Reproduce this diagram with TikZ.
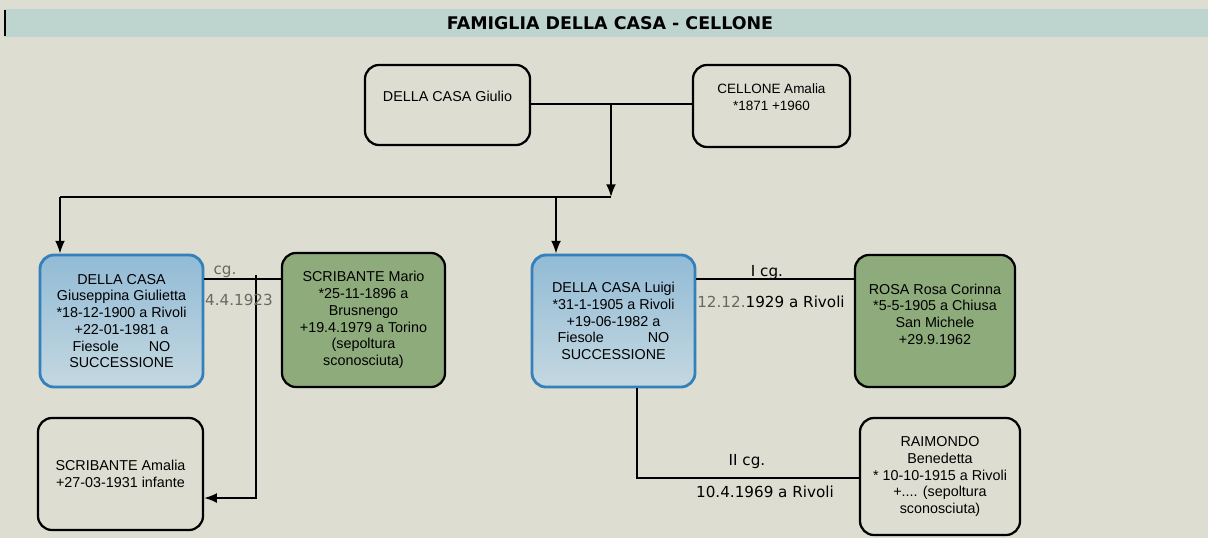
\documentclass[tikz,border=0pt]{standalone}
\usepackage{fontspec}
\setmainfont{Liberation Sans}
\newfontfamily\lblfont{DejaVu Sans}
\usepackage{tikz}
\usetikzlibrary{arrows.meta}
\usetikzlibrary{positioning}
\definecolor{paper}{RGB}{221,222,209}
\definecolor{band}{RGB}{190,212,207}
\definecolor{dcborder}{RGB}{52,128,186}
\definecolor{dctop}{RGB}{146,187,214}
\definecolor{dcbot}{RGB}{196,216,224}
\definecolor{spgreen}{RGB}{142,171,123}
\definecolor{lblgray}{RGB}{105,105,100}
\tikzstyle{pers}=[rectangle,draw,line width=1.6pt,rounded corners=10pt,align=center,inner sep=2pt,font=\fontsize{10.2}{11.9}\selectfont]
\tikzstyle{dc}=[pers,draw=dcborder,line width=2pt,top color=dctop,bottom color=dcbot]
\tikzstyle{sp}=[pers,fill=spgreen]
\tikzstyle{par}=[pers,text depth=0.45cm]
\tikzstyle{link}=[line width=1.3pt]
\tikzstyle{down}=[link,-{Latex[length=9pt,width=7pt]}]
\tikzstyle{cg}=[inner sep=0pt,font=\lblfont\fontsize{10.8}{12}\selectfont]

\begin{document}
\begin{tikzpicture}[x=0.025cm,y=-0.025cm]
%paper
\fill[paper] (0,0) rectangle (1208,538);
\useasboundingbox (0,0) rectangle (1208,538);

%title
\fill[band] (4,9) rectangle (1208,37);
\fill[black] (4,10) rectangle (6,36);
\node[inner sep=0pt,font=\lblfont\bfseries\fontsize{12.4}{14}\selectfont] (titolo) at (610,23) {FAMIGLIA DELLA CASA - CELLONE};

%parents
\node[par,minimum width=4.125cm,minimum height=2cm] (giulio) at (447.5,105) {DELLA CASA Giulio};
\node[par,minimum width=3.925cm,minimum height=2.05cm,font=\fontsize{9.6}{11.9}\selectfont] (cellone) at (771.5,106) {CELLONE Amalia\\*1871 +1960};

%children
\node[dc,minimum width=4.075cm,minimum height=3.3cm] (giuseppina) at (121.5,321) {DELLA CASA\\Giuseppina Giulietta\\*18-12-1900 a Rivoli\\+22-01-1981 a\\Fiesole\hspace*{0.75cm}NO\\SUCCESSIONE};
\node[dc,minimum width=4.075cm,minimum height=3.3cm] (luigi) at (613.5,321) {DELLA CASA Luigi\\*31-1-1905 a Rivoli\\+19-06-1982 a\\Fiesole\hspace*{1.1cm}NO\\SUCCESSIONE};

%spouses
\node[sp,minimum width=4.075cm,minimum height=3.35cm] (mario) at (363.5,320) {SCRIBANTE Mario\\*25-11-1896 a\\Brusnengo\\+19.4.1979 a Torino\\(sepoltura\\sconosciuta)};
\node[sp,minimum width=4cm,minimum height=3.3cm,text depth=0.35cm] (rosa) at (935,321) {ROSA Rosa Corinna\\*5-5-1905 a Chiusa\\San Michele\\+29.9.1962};
\node[pers,minimum width=4cm,minimum height=2.925cm] (raimondo) at (940,476.5) {RAIMONDO\\Benedetta\\* 10-10-1915 a Rivoli\\+.... (sepoltura\\sconosciuta)};

%grandchild
\node[pers,minimum width=4.125cm,minimum height=2.8cm] (amaliaS) at (120.5,474) {SCRIBANTE Amalia\\+27-03-1931 infante};

%lines
\coordinate (fork) at (611,197);
\coordinate (gdrop) at (60,197);
\coordinate (ldrop) at (556,197);
\coordinate (cgS) at (256,279);
\coordinate (cgSend) at (256,498);
\coordinate (cgL) at (775,279);
\coordinate (lDown) at (637,478);

\draw[link] (giulio.east |- 0,104) -- (cellone.west |- 0,104);
\draw[down] (fork |- 0,104) -- (fork);
\draw[link] (fork) -- (gdrop);
\draw[down] (gdrop) -- (gdrop |- giuseppina.north);
\draw[down] (ldrop) -- (ldrop |- luigi.north);

\draw[link] (giuseppina.east |- cgS) -- (mario.west |- cgS);
\draw[link,-{Latex[length=9pt,width=7pt]}] (cgS) ++(0,-4) -- (cgSend) -- (amaliaS.east |- cgSend);

\draw[link] (luigi.east |- cgL) -- (rosa.west |- cgL);
\draw[link] (luigi.south -| lDown) -- (lDown) -- (raimondo.west |- lDown);

%labels
\node[cg,text=lblgray] (cg1) at (225,272) {cg.};
\node[cg,text=lblgray] (dt1) at (239,300) {4.4.1923};
\node[cg] (cg2) at (767,273) {I cg.};
\node[cg] (dt2) at (771,302) {\textcolor{lblgray}{12.12.}1929 a Rivoli};
\node[cg] (cg3) at (747,462) {II cg.};
\node[cg] (dt3) at (765,492) {10.4.1969 a Rivoli};
\end{tikzpicture}
\end{document}
